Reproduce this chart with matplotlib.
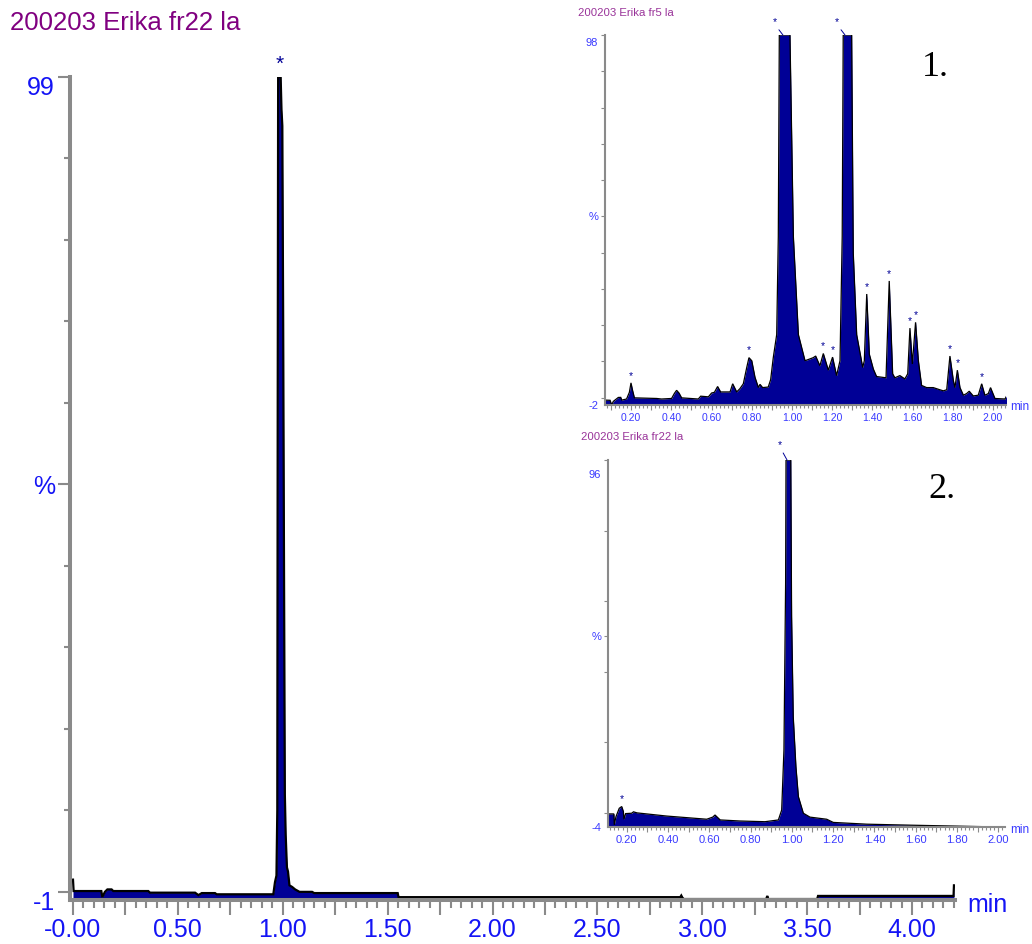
import numpy as np
import matplotlib.pyplot as plt

plt.rcParams['font.family'] = ['Liberation Sans', 'DejaVu Sans']

# ---- full run, fraction 22 ----
main_time = [0.000, 0.003, 0.135, 0.140, 0.152, 0.164, 0.184, 0.192, 0.359, 0.367,
             0.582, 0.598, 0.614, 0.677, 0.685, 0.955, 0.963, 0.970, 0.974, 0.976,
             0.978, 0.990, 0.994, 0.998, 1.002, 1.006, 1.010, 1.014, 1.020, 1.025,
             1.032, 1.045, 1.059, 1.080, 1.140, 1.150, 1.548, 1.552, 2.895, 2.900,
             2.905, 2.912, 3.305, 3.310, 3.315, 3.548, 3.552, 4.198, 4.200]
main_signal = [1.5, 0.1, 0.1, -0.65, 0.0, 0.3, 0.3, 0.1, 0.1, -0.1,
               -0.1, -0.4, -0.15, -0.15, -0.3, -0.3, 1.2, 2.0, 10, 60,
               100, 100, 96, 94, 70, 40, 12, 7, 3, 2.5,
               0.8, 0.6, 0.3, 0.0, 0.0, -0.15, -0.15, -0.65, -0.65, -0.45,
               -0.7, -0.88, -0.88, -0.5, -0.88, -0.88, -0.5, -0.5, 0.8]
main_star_times = [0.985]
main_xtick_labels = ['-0.00', '0.50', '1.00', '1.50', '2.00', '2.50', '3.00', '3.50', '4.00']
main_ylabel_values = [-1, 50, 99]
main_ylabels = ['-1', '%', '99']

# ---- inset 1, fraction 5 ----
fr5_time = [0.070, 0.095, 0.103, 0.111, 0.136, 0.148, 0.153, 0.177, 0.191, 0.199,
            0.207, 0.216, 0.327, 0.351, 0.401, 0.415, 0.426, 0.438, 0.451, 0.534,
            0.546, 0.584, 0.600, 0.614, 0.630, 0.645, 0.692, 0.705, 0.725, 0.741,
            0.758, 0.775, 0.786, 0.800, 0.816, 0.833, 0.841, 0.854, 0.882, 0.894,
            0.907, 0.924, 0.932, 0.937, 0.990, 1.007, 1.032, 1.065, 1.106, 1.118,
            1.139, 1.156, 1.181, 1.202, 1.222, 1.239, 1.250, 1.255, 1.297, 1.305,
            1.322, 1.352, 1.360, 1.372, 1.385, 1.405, 1.421, 1.468, 1.484, 1.501,
            1.512, 1.537, 1.562, 1.576, 1.587, 1.599, 1.615, 1.629, 1.645, 1.670,
            1.703, 1.736, 1.753, 1.770, 1.786, 1.803, 1.811, 1.823, 1.836, 1.853,
            1.869, 1.882, 1.902, 1.927, 1.944, 1.960, 1.977, 1.988, 2.010, 2.060,
            2.068]
fr5_signal = [-0.65, -0.7, -2.0, -1.0, 0.08, 0.1, -0.65, -0.35, 1.5, 4.1,
              2.0, -0.03, -0.2, -0.35, -0.2, 1.2, 2.05, 1.3, -0.03, -0.35,
              0.43, 0.25, 1.3, 1.5, 3.1, 1.6, 1.6, 3.85, 1.6, 2.5,
              3.85, 8.35, 11.05, 10.2, 5.65, 2.8, 3.7, 2.8, 2.95, 5.0,
              11.05, 17.4, 44.4, 100, 100, 44.4, 17.4, 10.2, 11.05, 11.5,
              8.8, 12.2, 7.6, 11.2, 6.1, 10.2, 44.4, 100, 100, 39.9,
              17.4, 8.35, 10.2, 28.6, 12.0, 7.9, 5.85, 5.5, 32.2, 6.6,
              5.5, 6.1, 5.2, 6.6, 19.2, 9.3, 20.8, 10.2, 3.4, 2.8,
              2.8, 2.2, 1.9, 2.2, 11.5, 4.75, 2.8, 7.6, 2.8, 0.7,
              1.15, 1.8, 0.5, 0.7, 3.85, 0.7, 1.15, 2.8, -0.2, -0.35,
              0.5]
fr5_star_times = [0.199, 0.786, 1.156, 1.202, 1.372, 1.484, 1.587, 1.615, 1.786, 1.823, 1.944]
fr5_flag_times = [0.955, 1.264]
fr5_xtick_labels = ['0.20', '0.40', '0.60', '0.80', '1.00', '1.20', '1.40', '1.60', '1.80', '2.00']
fr5_ylabel_values = [-2, 50, 98]
fr5_ylabels = ['-2', '%', '98']

# ---- inset 2, fraction 22 ----
fr22_time = [0.111, 0.138, 0.140, 0.148, 0.164, 0.176, 0.184, 0.187, 0.195, 0.224,
             0.233, 0.250, 0.394, 0.588, 0.617, 0.628, 0.653, 0.749, 0.870, 0.935,
             0.951, 0.962, 0.970, 0.972, 0.995, 0.999, 1.007, 1.020, 1.032, 1.056,
             1.088, 1.169, 1.201, 1.363, 1.589, 1.928, 2.033]
fr22_signal = [-0.3, -0.3, -3.4, -1.1, 1.3, 1.8, 0.4, -1.8, -0.2, -0.1,
               0.3, 0.0, -0.9, -1.8, -1.2, -0.6, -2.0, -2.3, -2.5, -2.0,
               0.8, 17.9, 65.0, 100, 100, 55.7, 27.3, 13.1, 4.6, -0.1,
               -1.2, -1.8, -2.7, -3.2, -3.5, -3.9, -4.0]
fr22_star_times = [0.176]
fr22_flag_times = [0.977]
fr22_xtick_labels = fr5_xtick_labels
fr22_ylabel_values = [-4, 50, 96]
fr22_ylabels = ['-4', '%', '96']

W, H = 1032, 944
NAVY = '#000096'
GRAY = '#8a8a8a'
BLUE = '#1414f5'
LIGHT_BLUE = '#3a3aff'


def px_box(left, top, right, bottom):
    # axes rectangle given in pixel coordinates of the output image
    return [left / W, 1 - bottom / H, (right - left) / W, (bottom - top) / H]


def draw_trace(ax, t, v, lw):
    ybottom = ax.get_ylim()[0]
    ax.fill_between(t, v, ybottom, color=NAVY, lw=0)
    ax.plot(t, v, color='black', lw=lw, solid_joinstyle='miter')


def frame(ax, spine_w, tick_w):
    for side in ['top', 'right']:
        ax.spines[side].set_visible(False)
    ax.spines['left'].set_color(GRAY)
    ax.spines['left'].set_linewidth(spine_w)
    ax.spines['bottom'].set_color(GRAY)
    ax.spines['bottom'].set_linewidth(spine_w)
    ax.tick_params(which='both', color=GRAY, width=tick_w)
    ax.set_facecolor('none')


def x_labels(ax, label_texts, major_step, label_step, minor_step):
    # long ticks every major_step, text only where a label exists, short ticks between
    lo, hi = ax.get_xlim()
    first = float(label_texts[0].replace('-', ''))
    pos = [p for p in np.arange(0, hi + 1e-9, major_step) if p >= lo]
    texts = []
    for p in pos:
        k = (p - first) / label_step
        if abs(k - round(k)) < 1e-6 and 0 <= round(k) < len(label_texts):
            texts.append(label_texts[int(round(k))])
        else:
            texts.append('')
    ax.set_xticks(pos, texts)
    ax.set_xticks([p for p in np.arange(0, hi, minor_step) if p >= lo], minor=True)
    ax.set_xlim(lo, hi)


def y_labels(ax, values, texts, size, color, pad):
    for val, txt in zip(values, texts):
        ax.annotate(txt, xy=(0, val), xycoords=('axes fraction', 'data'),
                    xytext=(-pad, 0), textcoords='offset points',
                    ha='right', va='center_baseline', fontsize=size, color=color,
                    annotation_clip=False)


def stars(ax, t, v, times, size, rise):
    for st in times:
        sv = np.interp(st, t, v)
        ax.annotate('*', xy=(st, sv), xytext=(0, rise), textcoords='offset points',
                    ha='center', va='baseline', fontsize=size, color=NAVY,
                    annotation_clip=False)


def flags(ax, times, size, dx, dy):
    top = ax.get_ylim()[1]
    for ft in times:
        ax.annotate('*', xy=(ft, top), xytext=(dx, dy), textcoords='offset points',
                    ha='center', va='baseline', fontsize=size, color=NAVY,
                    annotation_clip=False,
                    arrowprops=dict(arrowstyle='-', color=NAVY, lw=0.7,
                                    shrinkA=0, shrinkB=0, relpos=(0.6, 0.2)))


fig = plt.figure(figsize=(W / 100, H / 100), dpi=100)

# ---------------- main chromatogram ----------------
ax = fig.add_axes(px_box(70, 77, 955, 900))
ax.set_xlim(-0.0143, 4.205)
ax.set_ylim(-1, 100)
draw_trace(ax, main_time, main_signal, 1.6)
frame(ax, 2.9, 1.5)
ax.set_yticks([0, 50, 100], [])
ax.set_yticks(np.arange(0, 100, 10), minor=True)
ax.tick_params(axis='y', which='major', length=8.6)
ax.tick_params(axis='y', which='minor', length=4.3)
x_labels(ax, main_xtick_labels, 0.25, 0.5, 0.05)
ax.tick_params(axis='x', which='major', length=10.8, pad=2.4,
               labelsize=18, labelcolor=BLUE)
ax.tick_params(axis='x', which='minor', length=5.8)
y_labels(ax, main_ylabel_values, main_ylabels, 18, BLUE, 10.8)
stars(ax, main_time, main_signal, main_star_times, 15, 5.4)
ax.annotate('min', xy=(1, 0), xycoords='axes fraction', xytext=(8.6, -3.6),
            textcoords='offset points', ha='left', va='center',
            fontsize=18, color=BLUE, annotation_clip=False)

fig.text(10 / W, 1 - 23 / H, '200203 Erika fr22 la', fontsize=18.5,
         color='#800080', ha='left', va='center')

# ---------------- inset 1: fraction 5 ----------------
ax1 = fig.add_axes(px_box(605, 35, 1006, 405))
ax1.set_xlim(0.0697, 2.065)
ax1.set_ylim(-2, 100)
draw_trace(ax1, fr5_time, fr5_signal, 0.9)
frame(ax1, 1.5, 0.8)
ax1.set_yticks(np.arange(0, 101, 10), [])
ax1.tick_params(axis='y', length=3)
x_labels(ax1, fr5_xtick_labels, 0.1, 0.2, 0.02)
ax1.tick_params(axis='x', which='major', length=3.6, pad=2.5,
                labelsize=7.5, labelcolor=LIGHT_BLUE)
ax1.tick_params(axis='x', which='minor', length=2.2)
y_labels(ax1, fr5_ylabel_values, fr5_ylabels, 8, LIGHT_BLUE, 5)
stars(ax1, fr5_time, fr5_signal, fr5_star_times, 7.5, 3)
flags(ax1, fr5_flag_times, 7.5, -5.8, 7.2)
ax1.annotate('min', xy=(1, 0), xycoords='axes fraction', xytext=(3, -1.5),
             textcoords='offset points', ha='left', va='center',
             fontsize=8.5, color=LIGHT_BLUE, annotation_clip=False)
fig.text(578 / W, 1 - 13 / H, '200203 Erika fr5 la', fontsize=8.2,
         color='#993399', ha='left', va='center')
fig.text(935 / W, 1 - 68 / H, '1.', fontsize=26, family='Liberation Serif',
         ha='center', va='center')

# ---------------- inset 2: fraction 22 ----------------
ax2 = fig.add_axes(px_box(608, 460, 1005, 827))
ax2.set_xlim(0.1095, 2.033)
ax2.set_ylim(-4, 100)
draw_trace(ax2, fr22_time, fr22_signal, 0.9)
frame(ax2, 1.5, 0.8)
ax2.set_yticks([0, 20, 40, 50, 60, 80, 100], [])
ax2.tick_params(axis='y', length=3)
x_labels(ax2, fr22_xtick_labels, 0.1, 0.2, 0.02)
ax2.tick_params(axis='x', which='major', length=3.6, pad=2,
                labelsize=8, labelcolor=LIGHT_BLUE)
ax2.tick_params(axis='x', which='minor', length=2.2)
y_labels(ax2, fr22_ylabel_values, fr22_ylabels, 8, LIGHT_BLUE, 5)
stars(ax2, fr22_time, fr22_signal, fr22_star_times, 7.5, 3)
flags(ax2, fr22_flag_times, 7.5, -5, 8.5)
ax2.annotate('min', xy=(1, 0), xycoords='axes fraction', xytext=(3.5, -2),
             textcoords='offset points', ha='left', va='center',
             fontsize=8.5, color=LIGHT_BLUE, annotation_clip=False)
fig.text(581 / W, 1 - 437 / H, '200203 Erika fr22 la', fontsize=8.2,
         color='#993399', ha='left', va='center')
fig.text(942 / W, 1 - 490 / H, '2.', fontsize=26, family='Liberation Serif',
         ha='center', va='center')

fig.savefig('out.png', dpi=100)
